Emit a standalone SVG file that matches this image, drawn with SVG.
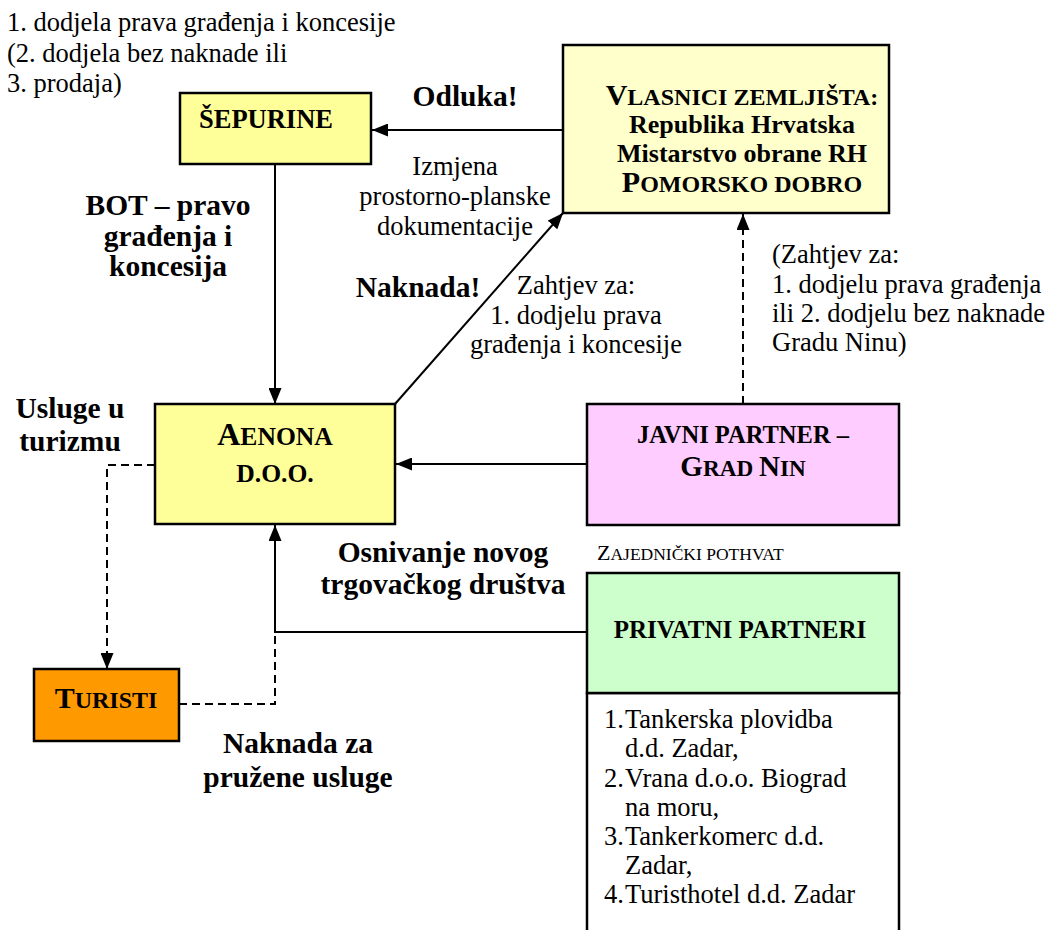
<svg xmlns="http://www.w3.org/2000/svg" width="1053" height="930" viewBox="0 0 1053 930" font-family="'Liberation Serif', Tinos, 'DejaVu Serif', serif">
<defs>
<marker id="ah" markerUnits="userSpaceOnUse" markerWidth="16" markerHeight="13" refX="16" refY="6.5" orient="auto" viewBox="0 0 16 13"><path d="M0,0 L16,6.5 L0,13 z" fill="#000"/></marker>
</defs>
<style>
text{font-family:'Liberation Serif', Tinos, 'DejaVu Serif', serif}
.t{fill:#000}
.r{font-size:26.5px}
.b{font-weight:bold}
.lbl{font-size:29.5px;font-weight:bold}
.box{stroke:#000;stroke-width:2.5}
.ln{fill:none;stroke:#000;stroke-width:2}
.d{stroke-dasharray:8 5}
</style>
<rect width="1053" height="930" fill="#fff"/>

<g id="note-top" class="t r">
<text x="7" y="31">1. dodjela prava građenja i koncesije</text>
<text x="7" y="61.5">(2. dodjela bez naknade ili</text>
<text x="7" y="92">3. prodaja)</text>
</g>

<g id="sepurine">
<rect class="box" x="180" y="93" width="191" height="71" fill="#FFFF99"/>
<text class="t b" x="266" y="128" font-size="26.5" text-anchor="middle">ŠEPURINE</text>
</g>

<g id="vlasnici">
<rect class="box" x="563" y="45" width="326" height="168" fill="#FFFFCC"/>
<text class="t b" x="742" y="105" text-anchor="middle"><tspan font-size="30">V</tspan><tspan font-size="24">LASNICI ZEMLJIŠTA:</tspan></text>
<text class="t b" x="742" y="133" font-size="26" text-anchor="middle">Republika Hrvatska</text>
<text class="t b" x="742" y="162" font-size="26" text-anchor="middle">Mistarstvo obrane RH</text>
<text class="t b" x="742" y="192" text-anchor="middle"><tspan font-size="30">P</tspan><tspan font-size="24">OMORSKO DOBRO</tspan></text>
</g>

<g id="aenona">
<rect class="box" x="155" y="404" width="240" height="120" fill="#FFFF99"/>
<text class="t b" x="275" y="445" text-anchor="middle"><tspan font-size="32">A</tspan><tspan font-size="25.6">ENONA</tspan></text>
<text class="t b" x="275" y="482" font-size="25.6" text-anchor="middle">D.O.O.</text>
</g>

<g id="javni">
<rect class="box" x="587" y="404" width="312" height="121" fill="#FFCCFF"/>
<text class="t b" x="743" y="443" font-size="24.5" text-anchor="middle">JAVNI PARTNER –</text>
<text class="t b" x="743" y="476" text-anchor="middle"><tspan font-size="29">G</tspan><tspan font-size="23.2">RAD </tspan><tspan font-size="29">N</tspan><tspan font-size="23.2">IN</tspan></text>
</g>

<g id="turisti">
<rect class="box" x="34" y="669" width="145" height="72" fill="#FF9900"/>
<text class="t b" x="106" y="708" text-anchor="middle"><tspan font-size="30">T</tspan><tspan font-size="24">URISTI</tspan></text>
</g>

<g id="privatni">
<rect class="box" x="587" y="693" width="312" height="260" fill="#fff"/>
<rect class="box" x="587" y="573" width="312" height="120" fill="#CCFFCC"/>
<text class="t b" x="740" y="638" font-size="25" text-anchor="middle">PRIVATNI PARTNERI</text>
<g class="t r">
<text x="604" y="728">1.</text><text x="625" y="728">Tankerska plovidba</text>
<text x="625" y="757">d.d. Zadar,</text>
<text x="604" y="787">2.</text><text x="625" y="787">Vrana d.o.o. Biograd</text>
<text x="625" y="816">na moru,</text>
<text x="604" y="845">3.</text><text x="625" y="845">Tankerkomerc d.d.</text>
<text x="625" y="874">Zadar,</text>
<text x="604" y="903">4.</text><text x="625" y="903">Turisthotel d.d. Zadar</text>
</g>
</g>

<g id="zajednicki">
<text class="t" x="597" y="560"><tspan font-size="22">Z</tspan><tspan font-size="17.5">AJEDNIČKI POTHVAT</tspan></text>
</g>

<g id="connectors">
<line class="ln" x1="563" y1="130" x2="372" y2="130" marker-end="url(#ah)"/>
<line class="ln" x1="275" y1="164" x2="275" y2="404" marker-end="url(#ah)"/>
<line class="ln" x1="395" y1="404" x2="563" y2="213" marker-end="url(#ah)"/>
<line class="ln" x1="587" y1="464" x2="396" y2="464" marker-end="url(#ah)"/>
<line class="ln d" x1="743" y1="404" x2="743" y2="214" marker-end="url(#ah)"/>
<polyline class="ln d" points="155,465 107,465 107,669" marker-end="url(#ah)"/>
<polyline class="ln" points="587,632 275,632 275,525" marker-end="url(#ah)"/>
<polyline class="ln d" points="179,704 275,704 275,632"/>
</g>

<g id="labels">
<text class="t lbl" x="465" y="106" text-anchor="middle">Odluka!</text>
<g class="t r" text-anchor="middle">
<text x="455" y="175">Izmjena</text>
<text x="455" y="205">prostorno-planske</text>
<text x="455" y="235">dokumentacije</text>
</g>
<g class="t lbl" text-anchor="middle">
<text x="168" y="215">BOT – pravo</text>
<text x="168" y="246">građenja i</text>
<text x="168" y="276">koncesija</text>
</g>
<text class="t lbl" x="418" y="297" text-anchor="middle">Naknada!</text>
<g class="t r" text-anchor="middle">
<text x="576" y="294">Zahtjev za:</text>
<text x="576" y="324">1. dodjelu prava</text>
<text x="576" y="353">građenja i koncesije</text>
</g>
<g class="t r">
<text x="772" y="263">(Zahtjev za:</text>
<text x="772" y="293">1. dodjelu prava građenja</text>
<text x="772" y="322">ili 2. dodjelu bez naknade</text>
<text x="772" y="351">Gradu Ninu)</text>
</g>
<g class="t lbl" text-anchor="middle">
<text x="70" y="418">Usluge u</text>
<text x="70" y="451">turizmu</text>
</g>
<g class="t lbl" text-anchor="middle">
<text x="443" y="562">Osnivanje novog</text>
<text x="443" y="594">trgovačkog društva</text>
</g>
<g class="t lbl" text-anchor="middle">
<text x="298" y="753">Naknada za</text>
<text x="298" y="787">pružene usluge</text>
</g>
</g>
</svg>
